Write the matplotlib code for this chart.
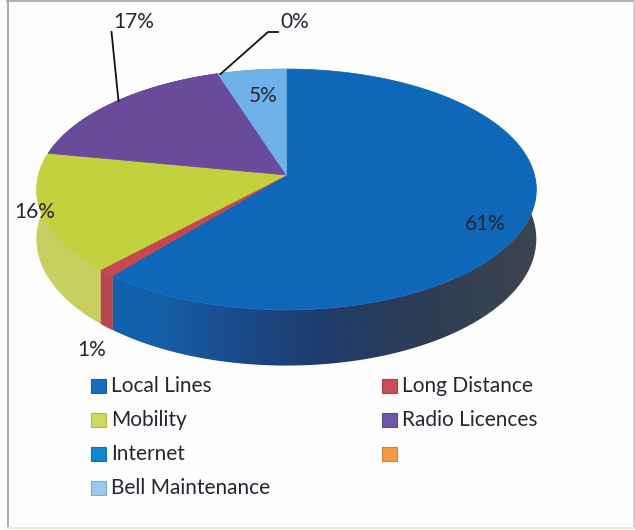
import numpy as np
import matplotlib
matplotlib.use("Agg")
import matplotlib.pyplot as plt
from matplotlib.colors import LinearSegmentedColormap, to_rgb
from matplotlib.patches import Polygon, Rectangle

categories = ["Local Lines", "Long Distance", "Mobility", "Radio Licences",
              "Internet", "", "Bell Maintenance"]
# Drawing order of the pie follows the series; the blank legend entry has no slice.
slice_names = ["Local Lines", "Long Distance", "Mobility", "Radio Licences",
               "Internet", "Bell Maintenance"]
slice_values = [61, 1, 16, 17, 0, 5]
slice_labels = ["61%", "1%", "16%", "17%", "0%", "5%"]

top_colors = {
    "Local Lines": "#0f67b9", "Long Distance": "#c8474f", "Mobility": "#c4d13e",
    "Radio Licences": "#6a4b9b", "Internet": "#0f86c8", "Bell Maintenance": "#6fb2ea",
}
legend_colors = {
    "Local Lines": "#1a6cc0", "Long Distance": "#c94c58", "Mobility": "#cfd95f",
    "Radio Licences": "#6c58a8", "Internet": "#1288cc", "": "#f59b3d",
    "Bell Maintenance": "#99c8f0",
}
side_colors = {"Long Distance": "#b8474f", "Mobility": "#c8cf60"}

TEXT = "#262631"
plt.rcParams["font.family"] = ["Lato", "DejaVu Sans"]

fig = plt.figure(figsize=(6.35, 5.30), dpi=100, facecolor="#fefefe")
ax = fig.add_axes([0, 0, 1, 1])
ax.set_xlim(0, 635)
ax.set_ylim(530, 0)
ax.axis("off")

CX, CY, RADIUS, FLAT, PERSP, DEPTH = 286.5, 175.0, 248.0, 118.7, 0.12, 49.0


def rim(theta):
    """Project a clockwise-from-top angle onto the tilted disc."""
    u, v = np.sin(theta), np.cos(theta)
    s = 1.0 / (1.0 + PERSP * v)
    return CX + RADIUS * u * s, CY - FLAT * v * s, s


fractions = np.cumsum([0] + slice_values) / sum(slice_values)
angles = fractions * 2 * np.pi

# Side wall of the disc; the large slice is shaded from blue to slate along its length.
wall_map = LinearSegmentedColormap.from_list(
    "wall", [(0.0, "#0f62b0"), (0.12, "#1560a8"), (0.28, "#1a4c8e"), (0.5, "#1e3c6c"),
             (0.72, "#2c3c56"), (1.0, "#3d454c")])
for name, a0, a1 in zip(slice_names, angles[:-1], angles[1:]):
    if a1 <= a0:
        continue
    th = np.linspace(a0, a1, 300)
    x, y, s = rim(th)
    outline = np.column_stack([np.r_[x, x[::-1]], np.r_[y, (y + DEPTH * s)[::-1]]])
    if name == "Local Lines":
        visible = th > np.pi / 2 - 0.25
        x_v, y_v, s_v = x[visible], y[visible], s[visible]
        outline = np.column_stack([np.r_[x_v, x_v[::-1]],
                                   np.r_[y_v, (y_v + DEPTH * s_v)[::-1]]])
        clip = Polygon(outline, closed=True, facecolor="none", edgecolor="none",
                       transform=ax.transData)
        ax.add_patch(clip)
        img = ax.imshow(np.linspace(0, 1, 256)[None, :], cmap=wall_map, vmin=0, vmax=1,
                        extent=(105, 538, 370, 180), aspect="auto", zorder=2,
                        interpolation="bilinear")
        img.set_clip_path(clip)
    else:
        color = side_colors.get(name, top_colors[name])
        ax.add_patch(Polygon(outline, closed=True, facecolor=color, edgecolor=color,
                             linewidth=0.4, zorder=2))
ax.set_xlim(0, 635)
ax.set_ylim(530, 0)

# Top face of each slice.
for name, a0, a1 in zip(slice_names, angles[:-1], angles[1:]):
    if a1 <= a0:
        continue
    th = np.linspace(a0, a1, 240)
    x, y, _ = rim(th)
    ax.fill(np.r_[CX, x], np.r_[CY, y], facecolor=top_colors[name],
            edgecolor=top_colors[name], linewidth=0.5, zorder=3)

# Leader lines for the two outer labels.
ax.plot([111.5, 118.5], [32, 101], color="#111111", lw=1.3, zorder=4)
ax.plot([220.5, 268, 278], [74, 32, 32], color="#111111", lw=1.3, zorder=4)

# Percentage labels.
label_pos = [(485, 224), (92, 350), (35, 212), (134, 22), (295, 22), (263, 96)]
for text, (lx, ly) in zip(slice_labels, label_pos):
    ax.text(lx, ly, text, ha="center", va="center", fontsize=15, color=TEXT, zorder=5)

# Two-column legend, filled row by row.
col_x = [91, 382]
row_y = [386, 420, 454, 488]
for idx, name in enumerate(categories):
    col, row = idx % 2, idx // 2
    ax.add_patch(Rectangle((col_x[col], row_y[row] - 7), 15, 14,
                           facecolor=legend_colors[name],
                           edgecolor=tuple(c * 0.85 for c in to_rgb(legend_colors[name])),
                           linewidth=0.8, zorder=3))
    if name:
        ax.text(col_x[col] + 20, row_y[row] + 0.5, name, ha="left", va="center",
                fontsize=15, color=TEXT, zorder=3)

# Chart frame.
ax.plot([7.5, 7.5], [0, 528], color="#a8a8a8", lw=1.4, zorder=1)
ax.plot([7, 633], [0.8, 0.8], color="#b0b0b0", lw=1.4, zorder=1)
ax.plot([633.5, 633.5], [0, 528], color="#c8c8c8", lw=1.2, zorder=1)
ax.plot([7, 634], [528, 528], color="#f0ecd0", lw=1.4, zorder=1)

fig.savefig("out.png", dpi=100, facecolor=fig.get_facecolor())
